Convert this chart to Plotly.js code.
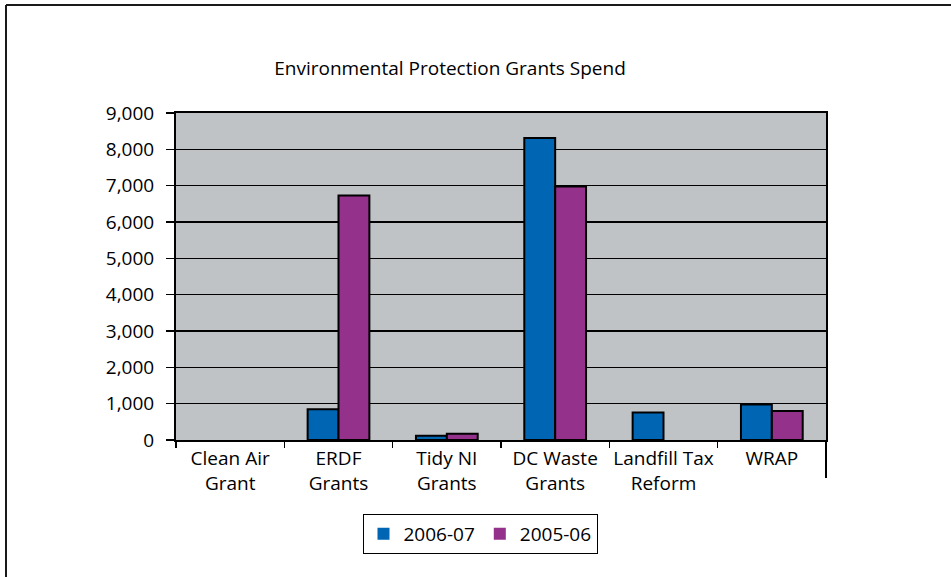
<!DOCTYPE html>
<html>
<head>
<meta charset="utf-8">
<script src="https://cdn.plot.ly/plotly-3.0.1.min.js"></script>
<style>html,body{margin:0;padding:0;background:#fff;}#chart{width:951px;height:577px;}</style>
</head>
<body>
<div id="chart"></div>
<script>
const categories = ["Clean Air<br>Grant", "ERDF<br>Grants", "Tidy NI<br>Grants", "DC Waste<br>Grants", "Landfill Tax<br>Reform", "WRAP"];
const series2006 = [0, 845, 120, 8310, 760, 980];
const series2005 = [0, 6730, 170, 6980, 0, 800];
const seriesNames = ["2006-07", "2005-06"];
const yTickVals = [0, 1000, 2000, 3000, 4000, 5000, 6000, 7000, 8000, 9000];

const FONT = "Open Sans, sans-serif";
const L = 176, R = 826, T = 113, B = 440, W = 951, H = 577;
const px = x => (x - L) / (R - L);
const py = y => (B - y) / (B - T);
const borderFor = vals => vals.map(v => (v ? 2 : 0));

const traces = [
  {type: "bar", name: seriesNames[0], x: categories, y: series2006,
   marker: {color: "#0066B3", line: {color: "#000", width: borderFor(series2006)}}},
  {type: "bar", name: seriesNames[1], x: categories, y: series2005,
   marker: {color: "#93318B", line: {color: "#000", width: borderFor(series2005)}}}
];

const layout = {
  width: W, height: H,
  margin: {l: L, r: W - R, t: T, b: H - B, pad: 0},
  paper_bgcolor: "#fff",
  plot_bgcolor: "#C0C3C6",
  font: {family: FONT, size: 19, color: "#000"},
  barmode: "group", bargap: 0.43, bargroupgap: 0,
  title: {text: "Environmental Protection Grants Spend", font: {family: FONT, size: 19, color: "#000"},
          xref: "paper", x: px(450), xanchor: "center", yref: "container", y: 1 - 68 / H, yanchor: "middle"},
  xaxis: {type: "category", showline: true, linecolor: "#000", linewidth: 2, mirror: true,
          ticks: "outside", ticklen: 6, tickwidth: 1.5, tickcolor: "#000", tickson: "boundaries",
          tickangle: 0, showgrid: false, tickfont: {family: FONT, size: 19}, fixedrange: true},
  yaxis: {range: [0, 9000], tickvals: yTickVals, tickformat: ",d", showline: true, linecolor: "#000", linewidth: 2,
          mirror: true, ticks: "outside", ticklen: 8, tickwidth: 1.5, tickcolor: "#000",
          showgrid: true, gridcolor: "#000", gridwidth: 1.5, zeroline: false,
          ticklabelstandoff: 8, tickfont: {family: FONT, size: 19}, fixedrange: true},
  legend: {orientation: "h", x: px(480), xanchor: "center", y: py(514), yanchor: "top",
           bgcolor: "#fff", bordercolor: "#000", borderwidth: 1, font: {family: FONT, size: 19},
           traceorder: "normal"},
  shapes: [
    {type: "line", xref: "paper", yref: "paper", x0: 1, x1: 1, y0: 0, y1: py(478), line: {color: "#000", width: 2}},
    {type: "line", xref: "paper", yref: "paper", x0: px(6), x1: px(6), y0: py(5), y1: py(600), line: {color: "#1a1a1a", width: 2}},
    {type: "line", xref: "paper", yref: "paper", x0: px(6), x1: px(960), y0: py(5), y1: py(5), line: {color: "#1a1a1a", width: 2}}
  ]
};

Plotly.newPlot("chart", traces, layout, {displayModeBar: false, staticPlot: true});
</script>
</body>
</html>
